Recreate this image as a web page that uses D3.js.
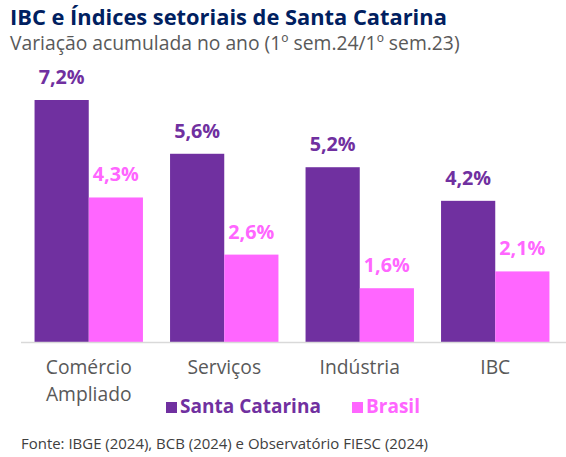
<!DOCTYPE html>
<html><head><meta charset="utf-8">
<script src="https://cdn.jsdelivr.net/npm/d3@7"></script>
<style>body{margin:0;background:#fff}svg{display:block}text{font-family:"Open Sans",sans-serif}</style>
</head><body><svg id="c" width="566" height="457"></svg>
<script>
const categories = ["Comércio\nAmpliado", "Serviços", "Indústria", "IBC"];
const seriesNames = ["Santa Catarina", "Brasil"];
const santaCatarina = [7.2, 5.6, 5.2, 4.2];
const brasil = [4.3, 2.6, 1.6, 2.1];
const colors = ["#7030a0", "#ff66ff"];
const title = "IBC e Índices setoriais de Santa Catarina";
const subtitle = "Variação acumulada no ano (1º sem.24/1º sem.23)";
const source = "Fonte: IBGE (2024), BCB (2024) e Observatório FIESC (2024)";

const svg = d3.select("#c");
const fmt = v => d3.format(".1f")(v).replace(".", ",") + "%";

function sizeFor(str, w, weight) {
  const t = svg.append("text").attr("font-size", 20).attr("font-weight", weight || 400).text(str);
  const len = t.node().getComputedTextLength();
  t.remove();
  return +(20 * w / len).toFixed(2);
}

svg.append("text").attr("x", 10).attr("y", 25).attr("font-size", sizeFor(title, 437, 700)).attr("font-weight", 700)
  .attr("fill", "#002060").text(title);
svg.append("text").attr("x", 10).attr("y", 50).attr("font-size", sizeFor(subtitle, 450)).attr("fill", "#595959")
  .text(subtitle);

const x = d3.scaleBand().domain(categories).range([21, 563]).paddingInner(0.2).paddingOuter(0.1);
const xs = d3.scaleBand().domain(seriesNames).range([0, x.bandwidth()]);
const y = d3.scaleLinear().domain([0, 7.2]).range([342, 100]);

const valFs = sizeFor("7,2%", 46, 700);
const data = categories.map((c, i) => ({c, vals: [santaCatarina[i], brasil[i]]}));
const g = svg.append("g");
const grp = g.selectAll("g.grp").data(data).join("g").attr("transform", d => `translate(${x(d.c)},0)`);
grp.selectAll("rect").data(d => d.vals.map((v, j) => ({v, s: seriesNames[j], j})))
  .join("rect").attr("x", d => xs(d.s)).attr("width", xs.bandwidth())
  .attr("y", d => y(d.v)).attr("height", d => y(0) - y(d.v)).attr("fill", d => colors[d.j]);
grp.selectAll("text.val").data(d => d.vals.map((v, j) => ({v, s: seriesNames[j], j})))
  .join("text").attr("class", "val").attr("x", d => xs(d.s) + xs.bandwidth() / 2)
  .attr("y", d => y(d.v) - 16).attr("text-anchor", "middle").attr("font-size", valFs)
  .attr("font-weight", 700).attr("fill", d => colors[d.j]).text(d => fmt(d.v));

svg.append("line").attr("x1", 21).attr("x2", 566).attr("y1", 342.5).attr("y2", 342.5)
  .attr("stroke", "#d9d9d9").attr("stroke-width", 1.5);

const catFs = sizeFor("Comércio", 86);
const xAxis = svg.append("g");
categories.forEach(c => {
  const cx = x(c) + x.bandwidth() / 2;
  c.split("\n").forEach((line, k) => xAxis.append("text").attr("x", cx).attr("y", 374 + k * 27)
    .attr("text-anchor", "middle").attr("font-size", catFs).attr("fill", "#595959").text(line));
});

const legX = [166, 352];
const legFs = sizeFor("Santa Catarina", 141, 700);
seriesNames.forEach((s, j) => {
  svg.append("rect").attr("x", legX[j]).attr("y", 402).attr("width", 11).attr("height", 11).attr("fill", colors[j]);
  svg.append("text").attr("x", legX[j] + 14).attr("y", 413).attr("font-size", legFs).attr("font-weight", 700)
    .attr("fill", colors[j]).text(s);
});

svg.append("text").attr("x", 21).attr("y", 449).attr("font-size", sizeFor(source, 407)).attr("fill", "#404040").text(source);
</script></body></html>
